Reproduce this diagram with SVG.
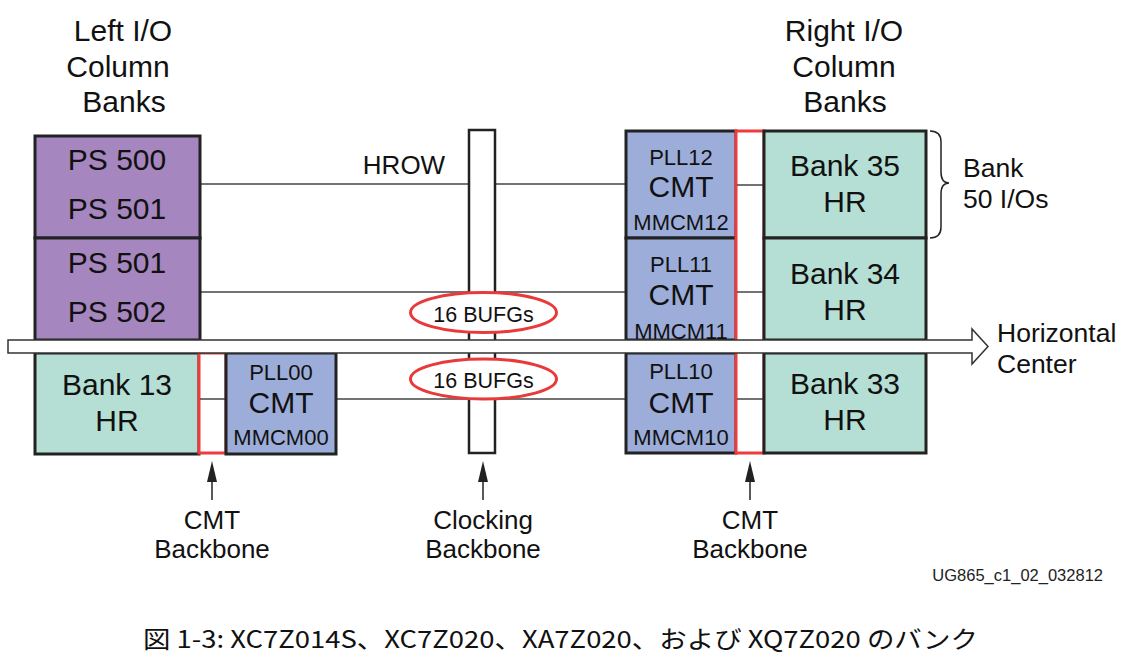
<svg xmlns="http://www.w3.org/2000/svg" width="1124" height="672" viewBox="0 0 1124 672">
<style>
text{font-family:"Liberation Sans",Arial,sans-serif;fill:#111;text-anchor:middle}
.t30{font-size:30px}
.t26{font-size:26px}
.tl{font-size:26.5px}
.t22{font-size:22px}
.t21{font-size:21.5px}
.ps{fill:#a686be;stroke:#222;stroke-width:3}
.bk{fill:#b5dfd4;stroke:#222;stroke-width:3}
.cmt{fill:#9dadd9;stroke:#222;stroke-width:3}
.red{fill:#fff;stroke:#ee3b3b;stroke-width:3}
.wire{stroke:#444;stroke-width:1.5;fill:none}
.ell{fill:#fff;stroke:#e83a3b;stroke-width:3}
.arr{stroke:#222;stroke-width:1.5;fill:none}
.head{fill:#222}
</style>
<rect width="1124" height="672" fill="#fff"/>

<g id="titles">
<text class="t30" x="123" y="41">Left I/O</text>
<text class="t30" x="118" y="77">Column</text>
<text class="t30" x="124" y="112">Banks</text>
<text class="t30" x="844" y="41">Right I/O</text>
<text class="t30" x="844" y="77">Column</text>
<text class="t30" x="845" y="112">Banks</text>
</g>

<g id="connectors">
<line class="wire" x1="200" y1="184" x2="626" y2="184"/>
<line class="wire" x1="200" y1="292" x2="626" y2="292"/>
<line class="wire" x1="336" y1="399" x2="626" y2="399"/>
</g>

<g id="clocking-backbone">
<rect x="469" y="130" width="26" height="323" fill="#fff" stroke="#222" stroke-width="2.5"/>
</g>
<g id="hrow-label"><text class="t26" x="404" y="174">HROW</text></g>

<g id="ps-500-501">
<rect class="ps" x="35" y="136" width="165" height="102"/>
<text class="t30" x="117" y="170">PS 500</text>
<text class="t30" x="117" y="219">PS 501</text>
</g>
<g id="ps-501-502">
<rect class="ps" x="35" y="238" width="165" height="102"/>
<text class="t30" x="117" y="273">PS 501</text>
<text class="t30" x="117" y="322">PS 502</text>
</g>

<g id="bank13">
<rect class="bk" x="35" y="353" width="164" height="101"/>
<text class="t30" x="117" y="395">Bank 13</text>
<text class="t30" x="117" y="431">HR</text>
</g>
<g id="cmt-backbone-left">
<rect class="red" x="199" y="353" width="27" height="100"/>
<line class="wire" x1="200" y1="399" x2="225" y2="399"/>
</g>
<g id="cmt00">
<rect class="cmt" x="226" y="353" width="110" height="101"/>
<text class="t22" x="281" y="380">PLL00</text>
<text class="t30" x="281" y="413">CMT</text>
<text class="t22" x="281" y="445">MMCM00</text>
</g>

<g id="cmt12">
<rect class="cmt" x="626" y="131" width="110" height="107"/>
<text class="t22" x="681" y="165">PLL12</text>
<text class="t30" x="681" y="197">CMT</text>
<text class="t22" x="681" y="230">MMCM12</text>
</g>
<g id="cmt11">
<rect class="cmt" x="626" y="238" width="110" height="102"/>
<text class="t22" x="681" y="272">PLL11</text>
<text class="t30" x="681" y="305">CMT</text>
<text class="t22" x="681" y="339">MMCM11</text>
</g>
<g id="cmt10">
<rect class="cmt" x="626" y="353" width="110" height="100"/>
<text class="t22" x="681" y="379">PLL10</text>
<text class="t30" x="681" y="413">CMT</text>
<text class="t22" x="681" y="445">MMCM10</text>
</g>
<g id="cmt-backbone-right">
<rect class="red" x="736" y="131" width="28" height="322"/>
<line class="wire" x1="737" y1="185" x2="763" y2="185"/>
<line class="wire" x1="737" y1="292" x2="763" y2="292"/>
<line class="wire" x1="737" y1="399" x2="763" y2="399"/>
</g>
<g id="bank35">
<rect class="bk" x="764" y="131" width="162" height="107"/>
<text class="t30" x="845" y="176">Bank 35</text>
<text class="t30" x="845" y="212">HR</text>
</g>
<g id="bank34">
<rect class="bk" x="764" y="238" width="162" height="102"/>
<text class="t30" x="845" y="284">Bank 34</text>
<text class="t30" x="845" y="320">HR</text>
</g>
<g id="bank33">
<rect class="bk" x="764" y="353" width="162" height="100"/>
<text class="t30" x="845" y="394">Bank 33</text>
<text class="t30" x="845" y="430">HR</text>
</g>

<g id="horizontal-center">
<path d="M8,340 L972,340 L972,329 L988,346.5 L972,364 L972,353 L8,353 Z" fill="#fff" stroke="#333" stroke-width="1.5"/>
<text class="tl" x="997" y="342" style="text-anchor:start">Horizontal</text>
<text class="tl" x="997" y="373" style="text-anchor:start">Center</text>
</g>

<g id="bufg-upper">
<ellipse class="ell" cx="483.5" cy="312.5" rx="73" ry="20"/>
<text class="t21" x="483.5" y="322">16 BUFGs</text>
</g>
<g id="bufg-lower">
<ellipse class="ell" cx="483.5" cy="379" rx="73" ry="20"/>
<text class="t21" x="483.5" y="388">16 BUFGs</text>
</g>

<g id="bank-brace">
<path d="M930,131 Q941,131 941,142 L941,172 Q941,183 949,183 Q941,183 941,194 L941,227 Q941,238 930,238" fill="none" stroke="#222" stroke-width="1.5"/>
<text class="tl" x="963" y="177" style="text-anchor:start">Bank</text>
<text class="tl" x="963" y="208" style="text-anchor:start">50 I/Os</text>
</g>

<g id="pointer-arrows">
<line class="arr" x1="212" y1="500" x2="212" y2="480"/>
<polygon class="head" points="207,482 212,461 217,482"/>
<line class="arr" x1="483" y1="500" x2="483" y2="480"/>
<polygon class="head" points="478,482 483,461 488,482"/>
<line class="arr" x1="750" y1="500" x2="750" y2="480"/>
<polygon class="head" points="745,482 750,461 755,482"/>
</g>
<g id="labels-bottom">
<text class="t26" x="212" y="529">CMT</text>
<text class="t26" x="212" y="558">Backbone</text>
<text class="t26" x="483" y="529">Clocking</text>
<text class="t26" x="483" y="558">Backbone</text>
<text class="t26" x="750" y="529">CMT</text>
<text class="t26" x="750" y="558">Backbone</text>
<text x="1103" y="581" style="font-size:16.5px;text-anchor:end;fill:#222">UG865_c1_02_032812</text>
</g>
<g id="caption">
<text x="143" y="648" textLength="835" lengthAdjust="spacingAndGlyphs" style="font-family:'Noto Sans CJK JP','Noto Sans',sans-serif;font-size:24px;text-anchor:start">図 1-3: XC7Z014S、XC7Z020、XA7Z020、および XQ7Z020 のバンク</text>
</g>
</svg>
